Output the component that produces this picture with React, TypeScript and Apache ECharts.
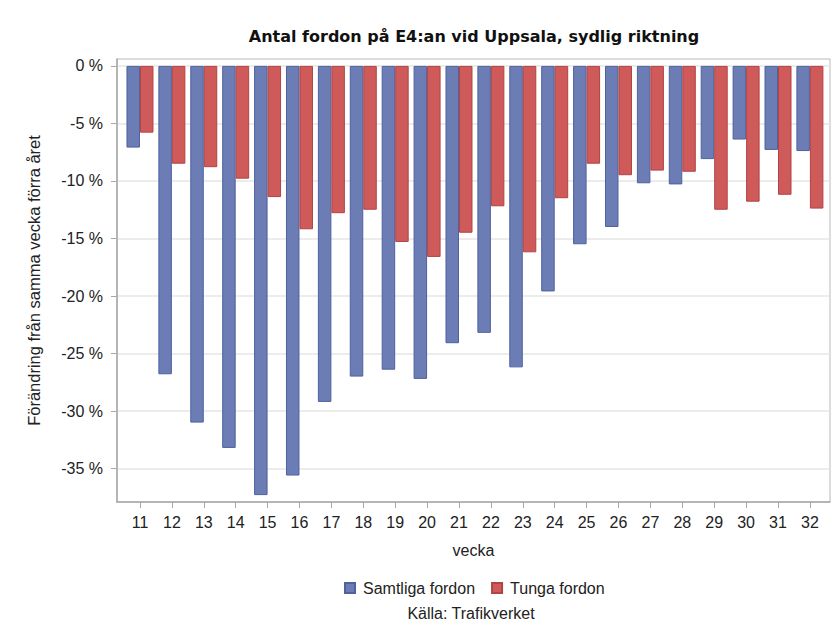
import React, { useEffect, useRef } from "react";
import * as echarts from "echarts";

const weeks = [11, 12, 13, 14, 15, 16, 17, 18, 19, 20, 21, 22, 23, 24, 25, 26, 27, 28, 29, 30, 31, 32];
const samtliga = [-7.1, -26.8, -31.0, -33.2, -37.3, -35.6, -29.2, -27.0, -26.4, -27.2, -24.1, -23.2, -26.2, -19.6, -15.5, -14.0, -10.2, -10.3, -8.1, -6.4, -7.3, -7.4];
const tunga = [-5.8, -8.5, -8.8, -9.8, -11.4, -14.2, -12.8, -12.5, -15.3, -16.6, -14.5, -12.2, -16.2, -11.5, -8.5, -9.5, -9.1, -9.2, -12.5, -11.8, -11.2, -12.4];
const yTicks = [0, -5, -10, -15, -20, -25, -30, -35];

const FONT = "'Liberation Sans', Arial, sans-serif";
const TITLE_FONT = "'DejaVu Sans', Verdana, sans-serif";

export default function App() {
  const ref = useRef<HTMLDivElement>(null);
  useEffect(() => {
    if (!ref.current) return;
    const chart = echarts.init(ref.current, null, { renderer: "svg" });
    chart.setOption({
      animation: false,
      backgroundColor: "#ffffff",
      textStyle: { fontFamily: FONT },
      grid: {
        left: 117,
        right: 5,
        top: 59,
        bottom: 127,
        show: true,
        borderColor: "#b8b8b8",
        borderWidth: 1,
        containLabel: false,
      },
      legend: {
        left: 339,
        top: 575,
        itemWidth: 10,
        itemHeight: 10,
        itemGap: 16,
        icon: "rect",
        textStyle: { fontSize: 16, color: "#222", fontFamily: FONT, padding: [0, 0, 0, 3] },
        data: ["Samtliga fordon", "Tunga fordon"],
      },
      graphic: [
        {
          type: "text",
          x: 474,
          y: 36,
          style: {
            text: "Antal fordon på E4:an vid Uppsala, sydlig riktning",
            fontSize: 16,
            fontWeight: "bold",
            fontFamily: TITLE_FONT,
            fill: "#111",
            textAlign: "center",
            textVerticalAlign: "middle",
          },
        },
        {
          type: "text",
          x: 471,
          y: 613,
          style: {
            text: "Källa: Trafikverket",
            fontSize: 16,
            fontFamily: FONT,
            fill: "#222",
            textAlign: "center",
            textVerticalAlign: "middle",
          },
        },
      ],
      xAxis: {
        type: "value",
        min: 10.28,
        max: 32.63,
        name: "vecka",
        nameLocation: "middle",
        nameGap: 40,
        nameTextStyle: { fontSize: 16, color: "#222", fontFamily: FONT },
        axisLine: { show: true, onZero: false, lineStyle: { color: "#a8a8a8", width: 1.5 } },
        axisTick: { show: true, length: 6, customValues: weeks, lineStyle: { color: "#a8a8a8" } },
        axisLabel: { customValues: weeks, fontSize: 16, color: "#222", margin: 12, fontFamily: FONT },
        splitLine: { show: false },
      },
      yAxis: {
        type: "value",
        min: -37.9,
        max: 0.6,
        name: "Förändring från samma vecka förra året",
        nameLocation: "middle",
        nameGap: 75,
        nameRotate: 90,
        nameTextStyle: { fontSize: 16.5, color: "#222", fontFamily: FONT },
        axisLine: { show: true, lineStyle: { color: "#a8a8a8", width: 1.5 } },
        axisTick: { show: true, length: 6, customValues: yTicks, lineStyle: { color: "#a8a8a8" } },
        axisLabel: {
          customValues: yTicks,
          fontSize: 16,
          color: "#222",
          margin: 14,
          fontFamily: FONT,
          formatter: (v: number) => `${v} %`,
        },
        splitLine: { show: true, lineStyle: { color: "#e6e6e6", width: 1.5 } },
      },
      series: [
        {
          name: "Samtliga fordon",
          type: "bar",
          barWidth: 13.5,
          barGap: "0%",
          data: weeks.map((w, i) => [w, samtliga[i]]),
          itemStyle: { color: "#6b7db4", borderColor: "#4f619e", borderWidth: 1 },
        },
        {
          name: "Tunga fordon",
          type: "bar",
          barWidth: 13.5,
          barGap: "0%",
          data: weeks.map((w, i) => [w, tunga[i]]),
          itemStyle: { color: "#cf5a5a", borderColor: "#b24343", borderWidth: 1 },
        },
      ],
    });
    return () => chart.dispose();
  }, []);
  return (
    <div
      ref={ref}
      style={{ position: "fixed", left: 0, top: 0, width: 835, height: 629 }}
    />
  );
}
